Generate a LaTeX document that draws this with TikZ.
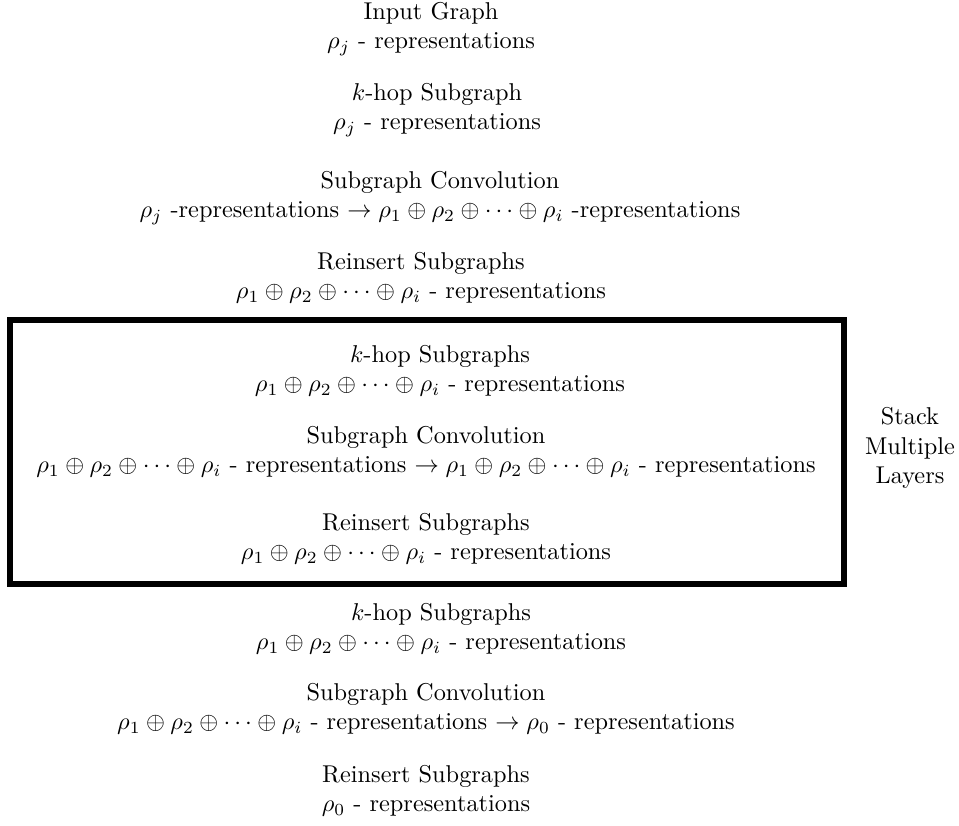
\documentclass[tikz,border=0pt]{standalone}
\usepackage{amsmath}
\begin{document}
\begin{tikzpicture}[x=0.01445cm,y=-0.01445cm,stage/.style={align=center,inner sep=0pt,fill=none}]
	\useasboundingbox (0,0) rectangle (959,825);
	% first layer
	\node[stage] (input) at (431,29) {Input Graph\\ $\rho_j$ - representations};
	\node[stage] (hopA) at (437,110) {$k$-hop Subgraph\\ $\rho_j$ - representations};
	\node[stage] (convA) at (440,198) {Subgraph Convolution\\ $\rho_j$ -representations $\rightarrow \rho_1 \oplus \rho_2 \oplus \cdots \oplus \rho_i$ -representations};
	\node[stage] (reinA) at (421,278) {Reinsert Subgraphs\\ $\rho_1 \oplus \rho_2 \oplus \cdots \oplus \rho_i$ - representations};
	% stacked layers
	\draw[line width=2.5pt] (10,320) rectangle (844,584);
	\node[stage] (hopB) at (440,371) {$k$-hop Subgraphs\\ $\rho_1 \oplus \rho_2 \oplus \cdots \oplus \rho_i$ - representations};
	\node[stage] (convB) at (426,452) {Subgraph Convolution\\ $\rho_1 \oplus \rho_2 \oplus \cdots \oplus \rho_i$ - representations $\rightarrow \rho_1 \oplus \rho_2 \oplus \cdots \oplus \rho_i$ - representations};
	\node[stage] (reinB) at (426,539) {Reinsert Subgraphs\\ $\rho_1 \oplus \rho_2 \oplus \cdots \oplus \rho_i$ - representations};
	\node[stage] (stack) at (910,448) {Stack\\ Multiple\\ Layers};
	% last layer
	\node[stage] (hopC) at (441,629) {$k$-hop Subgraphs\\ $\rho_1 \oplus \rho_2 \oplus \cdots \oplus \rho_i$ - representations};
	\node[stage] (convC) at (426,709) {Subgraph Convolution\\ $\rho_1 \oplus \rho_2 \oplus \cdots \oplus \rho_i$ - representations $\rightarrow \rho_0$ - representations};
	\node[stage] (reinC) at (426,791) {Reinsert Subgraphs\\ $\rho_0$ - representations};
\end{tikzpicture}
\end{document}
